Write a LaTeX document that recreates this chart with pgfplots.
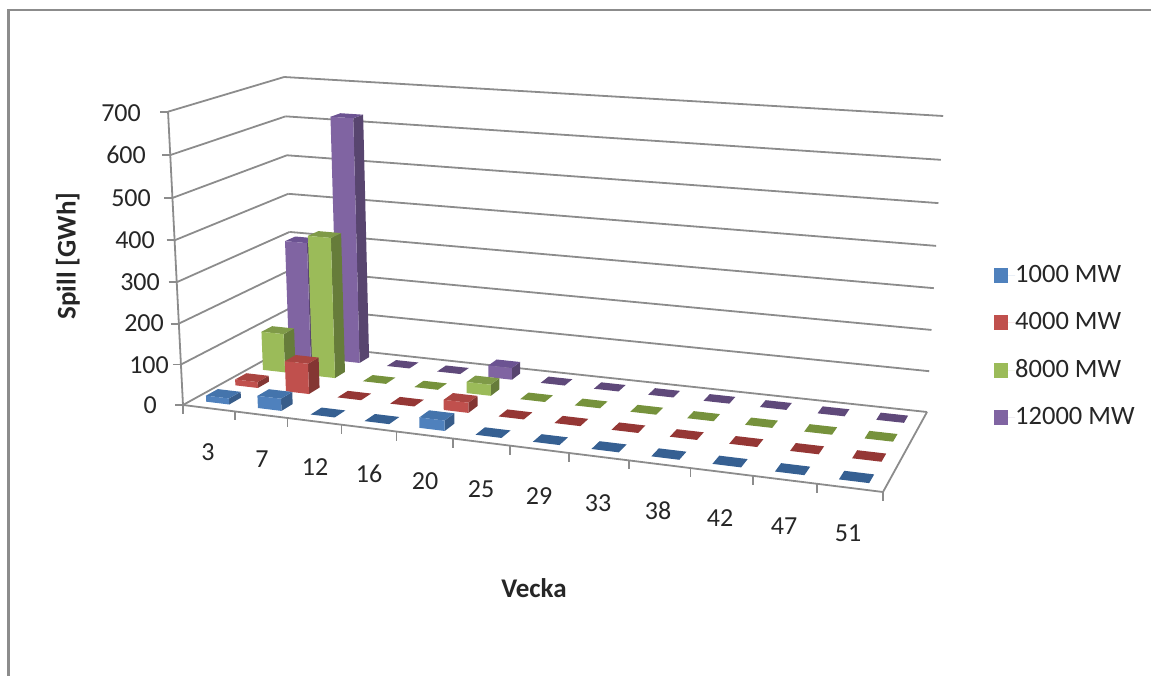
\documentclass[border=0pt]{standalone}
\usepackage{fontspec}
\setmainfont{Carlito}
\usepackage{pgfplots}
\usepackage{pgfplotstable}
\pgfplotsset{compat=1.18}
\definecolor{grid}{HTML}{8C8C8C}
\definecolor{f0}{HTML}{4F81BD}\definecolor{f1}{HTML}{C0504D}\definecolor{f2}{HTML}{9BBB59}\definecolor{f3}{HTML}{8064A2}
\definecolor{s0}{HTML}{385D8A}\definecolor{s1}{HTML}{843633}\definecolor{s2}{HTML}{667C3A}\definecolor{s3}{HTML}{58456F}
\definecolor{t0}{HTML}{4474AC}\definecolor{t1}{HTML}{AA4541}\definecolor{t2}{HTML}{7F9A48}\definecolor{t3}{HTML}{6C5392}
\definecolor{z0}{HTML}{366092}\definecolor{z1}{HTML}{953735}\definecolor{z2}{HTML}{76923C}\definecolor{z3}{HTML}{5F497A}
\pgfplotsset{/pgf/declare function={
 um(\u)=\u+0.021*\u*(1-\u);
 wd(\u,\v,\z)=1-0.14001*\u+0.1147*\v-0.0397*\z;
 px(\u,\v,\z)=(576.37*\u+144.16*\v+183-21.64*\z)/wd(\u,\v,\z);
 py(\u,\v,\z)=(18.12*\u-21.54*\v+405+\z*(-297.75+7.56*\u-2.93*\v))/wd(\u,\v,\z);
}}
% week index, then Spill [GWh] per capacity: s0=1000, s1=4000, s2=8000, s3=12000 MW
\pgfplotstableread{
idx week s0 s1 s2 s3
0  3  15 15 99 300
1  7  30 76 355 625
2  12 0 0 0 0
3  16 0 0 0 0
4  20 25 25 28 30
5  25 0 0 0 0
6  29 0 0 0 0
7  33 0 0 0 0
8  38 0 0 0 0
9  42 0 0 0 0
10 47 0 0 0 0
11 51 0 0 0 0
}\spill
\newcommand\gridseg[6]{\addplot[draw=grid,line width=1.8pt,forget plot] coordinates {({px(#1,#2,#3)},{py(#1,#2,#3)}) ({px(#4,#5,#6)},{py(#4,#5,#6)})};}
\newcommand\drawbar[3]{%
 \pgfmathsetmacro\uc{um((#1+.5)/12)}%
 \pgfmathsetmacro\ua{\uc-.019}\pgfmathsetmacro\ub{\uc+.019}%
 \pgfmathsetmacro\va{(#2+.5)/4-.05}\pgfmathsetmacro\vb{(#2+.5)/4+.05}%
 \pgfmathsetmacro\zz{#3/700}%
 \ifdim#3pt<0.5pt
  \addplot[fill=z#2,draw=none,forget plot] coordinates {({px(\ua,\va,0)},{py(\ua,\va,0)}) ({px(\ub,\va,0)},{py(\ub,\va,0)}) ({px(\ub,\vb,0)},{py(\ub,\vb,0)}) ({px(\ua,\vb,0)},{py(\ua,\vb,0)})};
 \else
  \addplot[fill=s#2,draw=none,forget plot] coordinates {({px(\ub,\va,0)},{py(\ub,\va,0)}) ({px(\ub,\vb,0)},{py(\ub,\vb,0)}) ({px(\ub,\vb,\zz)},{py(\ub,\vb,\zz)}) ({px(\ub,\va,\zz)},{py(\ub,\va,\zz)})};
  \addplot[fill=t#2,draw=none,forget plot] coordinates {({px(\ua,\va,\zz)},{py(\ua,\va,\zz)}) ({px(\ub,\va,\zz)},{py(\ub,\va,\zz)}) ({px(\ub,\vb,\zz)},{py(\ub,\vb,\zz)}) ({px(\ua,\vb,\zz)},{py(\ua,\vb,\zz)})};
  \addplot[fill=f#2,draw=none,forget plot] coordinates {({px(\ua,\va,0)},{py(\ua,\va,0)}) ({px(\ub,\va,0)},{py(\ub,\va,0)}) ({px(\ub,\va,\zz)},{py(\ub,\va,\zz)}) ({px(\ua,\va,\zz)},{py(\ua,\va,\zz)})};
 \fi}
\tikzset{lbl/.style={font=\fontsize{26}{26}\selectfont,text=black!85,inner sep=0pt}}
\begin{document}
\begin{tikzpicture}
\useasboundingbox (0,0) rectangle (1151pt,676pt);
\begin{axis}[
 anchor=south west, at={(0,0)},
 scale only axis, width=1151pt, height=676pt,
 xmin=0, xmax=1151, ymin=0, ymax=676, y dir=reverse,
 hide axis, clip=true,
 legend style={at={(0.8636,0.4874)},anchor=west,draw=none,fill=none,
   row sep=32.6pt,font=\fontsize{26.5}{26.5}\selectfont,inner sep=0pt,text=black!85,
   nodes={inner sep=0pt,text height=14pt,text depth=0pt}},
 legend cell align=left,
 legend image code/.code={\fill[#1] (0pt,-7.5pt) rectangle (14pt,7.5pt);\path (0pt,0pt) -- (21pt,0pt);},
]
% frame
\addplot[draw=grid,line width=2.6pt,forget plot] coordinates {(8.5,676) (8.5,10.2) (1151,10.2)};
% walls
\pgfplotsinvokeforeach{0,1,2,3,4,5,6,7}{%
 \gridseg{0}{0}{#1/7}{0}{1}{#1/7}
 \gridseg{0}{1}{#1/7}{1}{1}{#1/7}
 \addplot[draw=grid,line width=1.8pt,forget plot] coordinates {({px(0,0,#1/7)-8},{py(0,0,#1/7)}) ({px(0,0,#1/7)},{py(0,0,#1/7)})};
}
\gridseg{0}{0}{0}{0}{0}{1}
\gridseg{0}{0}{0}{1}{0}{0}
\gridseg{1}{0}{0}{1}{1}{0}
\pgfplotsinvokeforeach{0,1,...,12}{%
 \addplot[draw=grid,line width=1.8pt,forget plot] coordinates {({px(um(#1/12),0,0)},{py(um(#1/12),0,0)}) ({px(um(#1/12),0,0)},{py(um(#1/12),0,0)+9})};
}
% bars
\pgfplotsforeachungrouped \s in {3,2,1,0}{%
 \pgfplotsforeachungrouped \i in {0,...,11}{%
  \pgfplotstablegetelem{\i}{s\s}\of\spill
  \edef\doit{\noexpand\drawbar{\i}{\s}{\pgfplotsretval}}\doit
 }}
% legend
\addlegendimage{fill=f0,draw=none}\addlegendentry{1000 MW}
\addlegendimage{fill=f1,draw=none}\addlegendentry{4000 MW}
\addlegendimage{fill=f2,draw=none}\addlegendentry{8000 MW}
\addlegendimage{fill=f3,draw=none}\addlegendentry{12000 MW}
% value labels
\node[lbl,anchor=east] at (axis cs:141,113) {700};
\node[lbl,anchor=east] at (axis cs:146,155) {600};
\node[lbl,anchor=east] at (axis cs:151,198) {500};
\node[lbl,anchor=east] at (axis cs:155,240) {400};
\node[lbl,anchor=east] at (axis cs:160,282) {300};
\node[lbl,anchor=east] at (axis cs:164,323) {200};
\node[lbl,anchor=east] at (axis cs:169,365) {100};
\node[lbl,anchor=east] at (axis cs:157,405) {0};
% category labels
\node[lbl] at (axis cs:208,452) {3};
\node[lbl] at (axis cs:262,459.4) {7};
\node[lbl] at (axis cs:315,466.7) {12};
\node[lbl] at (axis cs:369,474) {16};
\node[lbl] at (axis cs:425,481) {20};
\node[lbl] at (axis cs:481,489) {25};
\node[lbl] at (axis cs:539,496) {29};
\node[lbl] at (axis cs:598,503.6) {33};
\node[lbl] at (axis cs:658,511) {38};
\node[lbl] at (axis cs:720,518.4) {42};
\node[lbl] at (axis cs:784,525.8) {47};
\node[lbl] at (axis cs:848,533) {51};
% axis titles
\node[font=\fontsize{27}{27}\selectfont\bfseries,rotate=90,text=black!85,inner sep=0pt] at (axis cs:68,256) {Spill [GWh]};
\node[font=\fontsize{27}{27}\selectfont\bfseries,text=black!85,inner sep=0pt] at (axis cs:534,588) {Vecka};
\end{axis}
\end{tikzpicture}
\end{document}
